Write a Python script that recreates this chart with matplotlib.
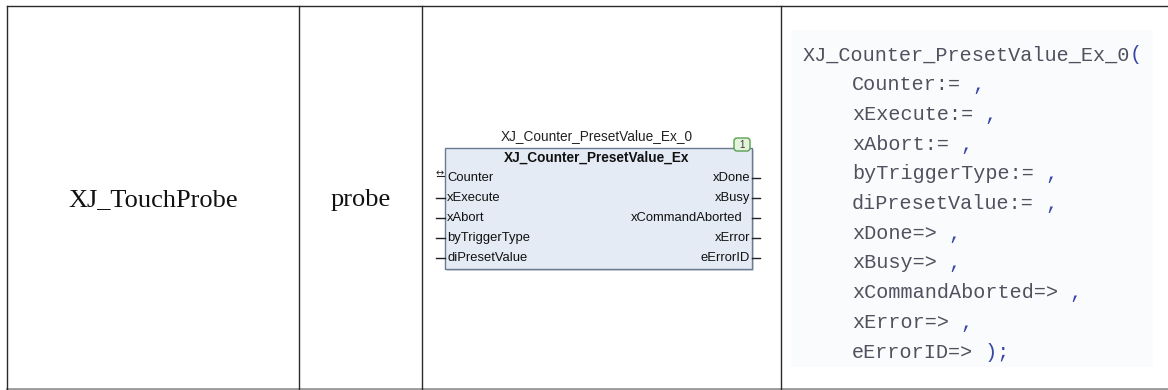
import matplotlib
matplotlib.use("Agg")
import matplotlib.pyplot as plt
from matplotlib.patches import Rectangle, FancyBboxPatch

# --- table content ---
cell_texts = ["XJ_TouchProbe", "probe"]
col_edges = [7, 299, 422, 781, 1168]   # table column borders (px)
instance_name = "XJ_Counter_PresetValue_Ex_0"
block_type = "XJ_Counter_PresetValue_Ex"
inputs = ["Counter", "xExecute", "xAbort", "byTriggerType", "diPresetValue"]
outputs = ["xDone", "xBusy", "xCommandAborted", "xError", "eErrorID"]
call_args = ["Counter:=", "xExecute:=", "xAbort:=", "byTriggerType:=",
             "diPresetValue:=", "xDone=>", "xBusy=>", "xCommandAborted=>",
             "xError=>", "eErrorID=>"]

W, H = 1168, 390
fig = plt.figure(figsize=(W / 100, H / 100), dpi=100)
ax = fig.add_axes([0, 0, 1, 1])
ax.set_xlim(0, W)
ax.set_ylim(H, 0)
ax.axis("off")

# --- table grid ---
top, bottom = 6, 389
ax.plot([col_edges[0], W], [top, top], color="#2a2a2a", lw=1.0)
ax.plot([col_edges[0], W], [bottom, bottom], color="#999999", lw=2)
for x in col_edges[:-1]:
    ax.plot([x, x], [top, bottom], color="#2a2a2a", lw=1.0)

mid_y = 200
for i, t in enumerate(cell_texts):
    cx = (col_edges[i] + col_edges[i + 1]) / 2
    ax.text(cx, mid_y, t, family="Liberation Serif", fontsize=19,
            ha="center", va="center", color="#111111")

# --- function block ---
bx0, bx1, by0, by1 = 445, 752, 148, 269
ax.add_patch(Rectangle((bx0 + 2, by0 + 2), bx1 - bx0, by1 - by0,
                       facecolor="#d8dce2", edgecolor="none", zorder=1))
ax.add_patch(Rectangle((bx0, by0), bx1 - bx0, by1 - by0,
                       facecolor="#e4ebf5", edgecolor="#6a7a90", lw=1, zorder=2))
bcx = (bx0 + bx1) / 2 - 2
ax.text(bcx, 136, instance_name, family="Liberation Sans", fontsize=9.8,
        ha="center", va="center", color="#222222", zorder=3)
ax.text(bcx, 158, block_type, family="Liberation Sans", fontsize=9.8,
        fontweight="bold", ha="center", va="center", color="#111111", zorder=3)

ax.add_patch(FancyBboxPatch((734, 138), 16, 13, boxstyle="round,pad=0,rounding_size=3",
                            facecolor="#e4f4dc", edgecolor="#5aa050", lw=1, zorder=4))
ax.text(742, 145, "1", family="Liberation Sans", fontsize=7, ha="center",
        va="center", color="#333333", zorder=5)

pin_y0, pin_dy = 178, 20
for i, name in enumerate(inputs):
    y = pin_y0 + i * pin_dy
    ax.text(bx0 + 2, y, name, family="Liberation Sans", fontsize=9.4,
            ha="left", va="center", color="#111111", zorder=3)
    if i == 0:
        ax.text(bx0 - 1, y - 5, "\u2194", family="DejaVu Sans", fontsize=7,
                ha="right", va="center", color="#222222", zorder=3)
        ax.plot([bx0 - 8, bx0 - 1], [y - 2, y - 2], color="#222222", lw=0.8)
    else:
        ax.plot([bx0 - 9, bx0], [y, y], color="#222222", lw=1, zorder=3)
for i, name in enumerate(outputs):
    y = pin_y0 + i * pin_dy
    pad = 9 if name == "xCommandAborted" else 2
    ax.text(bx1 - pad, y, name, family="Liberation Sans", fontsize=9.4,
            ha="right", va="center", color="#111111", zorder=3)
    ax.plot([bx1, bx1 + 8], [y, y], color="#222222", lw=1, zorder=3)

# --- structured text call ---
ax.add_patch(Rectangle((791, 30), 362, 337, facecolor="#fafbfc",
                       edgecolor="none", zorder=0))
mono = "Liberation Mono"
char_w = 12.1
text_col, punct_col = "#50505e", "#3a45a8"
x_head, x_arg = 803, 852
line_y0, line_dy = 55, 29.7

ax.text(x_head, line_y0, instance_name, family=mono, fontsize=14.5,
        ha="left", va="center", color=text_col)
ax.text(x_head + len(instance_name) * char_w, line_y0, "(", family=mono,
        fontsize=14.5, ha="left", va="center", color=punct_col)
for i, arg in enumerate(call_args):
    y = line_y0 + (i + 1) * line_dy
    tail = " );" if i == len(call_args) - 1 else " ,"
    ax.text(x_arg, y, arg, family=mono, fontsize=14.5, ha="left",
            va="center", color=text_col)
    ax.text(x_arg + len(arg) * char_w, y, tail, family=mono, fontsize=14.5,
            ha="left", va="center", color=punct_col)

fig.savefig("out.png", dpi=100)
